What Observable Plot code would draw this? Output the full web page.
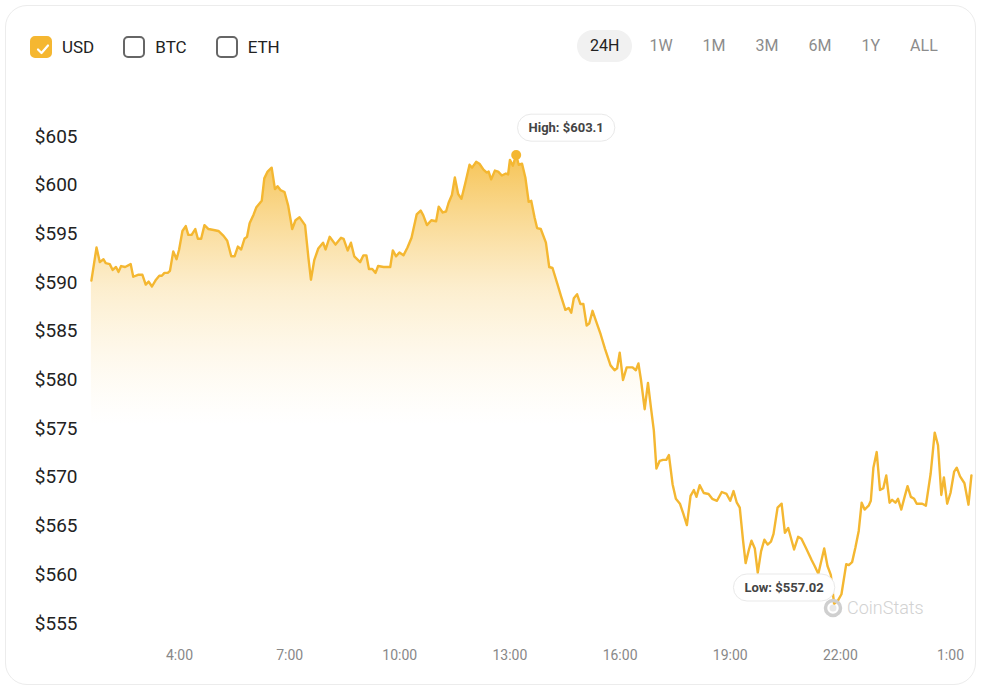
<!DOCTYPE html>
<html><head><meta charset="utf-8">
<script src="https://cdn.jsdelivr.net/npm/d3@7"></script>
<script src="https://cdn.jsdelivr.net/npm/@observablehq/plot@0.6"></script>
<style>
html,body{margin:0;padding:0;background:#fff;font-family:Roboto,"Noto Sans",sans-serif;}
#card{position:absolute;left:5px;top:5px;width:971px;height:680px;border:1px solid #ececec;border-radius:22px;box-sizing:border-box;}
#legend{position:absolute;left:30px;top:36px;display:flex;align-items:center;gap:29px;}
.item{display:flex;align-items:center;gap:10px;font-size:17px;color:#222;}
.box{width:22px;height:22px;box-sizing:border-box;border:2px solid #666;border-radius:5px;position:relative;}
.box.on{background:#f5b731;border-color:#f5b731;}
.box.on svg{position:absolute;left:3px;top:3px;}
#ranges{position:absolute;left:577px;top:30px;display:flex;gap:4px;}
.rb{height:32px;line-height:32px;padding:0 13px;border-radius:16px;font-size:16px;color:#8c8c8c;}
.rb.on{background:#f1f1f1;color:#222;}
#chart{position:absolute;left:0;top:90px;}
#wm{position:absolute;left:823px;top:597px;display:flex;align-items:center;gap:4px;color:#d2d2d2;font-size:18px;font-weight:300;}
</style></head><body>
<div id="card"></div>
<div id="legend"></div>
<div id="ranges"></div>
<div id="chart"></div>
<div id="wm"><svg width="20" height="20" viewBox="0 0 20 20"><circle cx="10" cy="10" r="7.5" fill="none" stroke="#cfcfcf" stroke-width="3.5"/><circle cx="10" cy="10" r="3.5" fill="#e8e8e8"/></svg><span>CoinStats</span></div>
<script>
const currencies = ["USD", "BTC", "ETH"];
const ranges = ["24H", "1W", "1M", "3M", "6M", "1Y", "ALL"];
const xTickHours = [4, 7, 10, 13, 16, 19, 22, 25];
const xTickLabels = ["4:00", "7:00", "10:00", "13:00", "16:00", "19:00", "22:00", "1:00"];
const yTicks = [555, 560, 565, 570, 575, 580, 585, 590, 595, 600, 605];
const hours = [1.60,1.74,1.83,1.93,1.99,2.10,2.18,2.27,2.34,2.41,2.52,2.67,2.74,2.87,2.99,3.08,3.16,3.25,3.36,3.45,3.52,3.59,3.68,3.74,3.83,3.92,3.99,4.08,4.17,4.24,4.33,4.43,4.50,4.59,4.68,4.79,4.93,5.06,5.20,5.30,5.41,5.50,5.59,5.68,5.77,5.84,5.91,6.02,6.09,6.24,6.31,6.40,6.51,6.60,6.67,6.75,6.86,6.96,7.07,7.16,7.27,7.42,7.51,7.58,7.67,7.78,7.91,7.98,8.09,8.25,8.40,8.47,8.58,8.67,8.76,8.92,9.01,9.09,9.16,9.25,9.34,9.41,9.56,9.74,9.81,9.90,9.99,10.10,10.21,10.32,10.46,10.57,10.64,10.74,10.86,10.99,11.06,11.17,11.26,11.33,11.42,11.50,11.59,11.68,11.79,11.90,11.97,12.08,12.17,12.28,12.37,12.42,12.49,12.59,12.68,12.78,12.89,12.95,13.00,13.08,13.17,13.24,13.33,13.42,13.51,13.58,13.67,13.74,13.84,13.98,14.07,14.16,14.29,14.40,14.51,14.60,14.67,14.74,14.83,14.92,15.00,15.09,15.16,15.25,15.36,15.47,15.59,15.74,15.85,15.92,15.99,16.08,16.18,16.34,16.43,16.50,16.57,16.67,16.76,16.84,16.92,16.99,17.08,17.17,17.26,17.33,17.43,17.52,17.63,17.72,17.82,17.92,18.01,18.08,18.17,18.28,18.41,18.51,18.64,18.77,18.90,19.00,19.09,19.18,19.26,19.35,19.42,19.51,19.58,19.67,19.75,19.84,19.93,20.02,20.11,20.18,20.29,20.40,20.49,20.58,20.74,20.85,20.94,21.07,21.22,21.30,21.40,21.56,21.65,21.74,21.83,21.94,22.03,22.16,22.23,22.32,22.41,22.50,22.58,22.66,22.77,22.83,22.90,22.99,23.08,23.17,23.25,23.34,23.41,23.50,23.57,23.66,23.75,23.83,23.92,24.01,24.08,24.23,24.33,24.46,24.57,24.66,24.75,24.82,24.91,25.00,25.10,25.17,25.26,25.38,25.49,25.57];
const prices = [590.2,593.6,592.1,592.4,592.0,591.9,591.3,591.6,591.1,591.7,591.6,591.9,590.6,590.8,590.8,589.8,590.1,589.6,590.3,590.7,590.7,591.0,591.0,591.2,593.2,592.4,593.4,595.3,595.8,594.9,594.9,595.5,594.5,594.5,595.9,595.5,595.4,595.3,594.8,594.3,592.7,592.7,593.7,593.4,594.5,594.7,596.1,597.0,597.7,598.4,600.7,601.4,601.8,599.6,599.9,599.5,599.3,597.9,595.5,596.4,596.7,595.9,592.6,590.3,592.3,593.5,594.1,593.4,594.7,593.9,594.6,594.5,593.3,594.1,592.7,592.1,592.8,592.8,591.4,591.4,591.0,591.7,591.6,591.6,593.3,592.7,593.1,592.8,593.6,594.6,597.0,597.4,596.9,595.9,596.4,596.3,597.8,597.2,597.3,598.2,599.0,600.8,599.1,598.6,600.3,602.1,601.8,602.4,602.2,601.6,601.3,601.4,600.6,601.5,601.4,601.0,601.2,601.1,602.6,602.0,603.1,602.1,602.2,600.8,598.3,598.4,596.7,595.6,595.5,594.1,591.6,591.5,589.9,588.5,587.2,587.4,586.9,588.4,588.8,587.8,587.8,585.6,585.8,587.1,585.9,584.7,583.2,581.5,581.0,581.2,582.8,580.0,581.3,581.3,581.0,581.7,580.0,577.0,579.7,577.2,574.8,570.9,571.7,571.8,571.8,572.3,569.3,567.8,567.3,566.3,565.1,568.1,568.7,568.0,569.2,568.4,568.3,567.8,567.6,568.5,568.3,567.6,568.6,567.4,566.9,563.5,561.2,562.6,563.5,562.7,560.2,562.4,563.6,563.1,563.4,564.2,566.9,567.3,564.3,564.8,562.6,563.9,563.7,562.7,561.5,560.9,560.1,562.7,560.9,560.0,557.02,557.4,558.0,561.1,561.0,561.3,562.8,564.5,567.4,566.7,567.1,567.6,571.0,572.6,568.7,568.9,570.2,567.4,567.7,567.4,567.8,566.7,568.0,569.1,568.0,567.8,567.3,567.3,567.1,570.4,574.6,573.3,568.2,570.0,567.3,568.4,570.6,571.0,570.1,569.4,567.2,570.2];

// header
const legend = document.getElementById("legend");
currencies.forEach((c, i) => {
  const it = document.createElement("div"); it.className = "item";
  const b = document.createElement("div"); b.className = "box" + (i === 0 ? " on" : "");
  if (i === 0) b.innerHTML = '<svg width="16" height="16" viewBox="0 0 16 16"><path d="M3 8.5 L6.5 12 L13 4.5" fill="none" stroke="#fff" stroke-width="2.2" stroke-linecap="round" stroke-linejoin="round"/></svg>';
  const t = document.createElement("span"); t.textContent = c;
  it.append(b, t); legend.append(it);
});
const rg = document.getElementById("ranges");
ranges.forEach((r, i) => {
  const d = document.createElement("div"); d.className = "rb" + (i === 0 ? " on" : ""); d.textContent = r; rg.append(d);
});

const data = hours.map((h, i) => ({h, p: prices[i]}));
const hi = data.reduce((a, b) => b.p > a.p ? b : a);
const lo = data.reduce((a, b) => b.p < a.p ? b : a);
const lineColor = "#f4b731";

const chart = Plot.plot({
  width: 982, height: 600,
  marginLeft: 80, marginRight: 0, marginTop: 0, marginBottom: 43,
  style: {fontFamily: "Roboto, sans-serif", background: "transparent", overflow: "visible"},
  x: {domain: [4, 25], range: [179, 950]},
  y: {domain: [555, 605], range: [533, 46]},
  marks: [
    Plot.areaY(data, {x: "h", y1: 555, y2: "p", fill: "url(#usdGrad)"}),
    Plot.lineY(data, {x: "h", y: "p", stroke: lineColor, strokeWidth: 2.4, strokeLinejoin: "round"}),
    Plot.dot([hi], {x: "h", y: "p", r: 5, fill: lineColor}),
    Plot.axisY({ticks: yTicks, tickSize: 0, tickPadding: 3, tickFormat: d => "$" + d, fontSize: 19, fill: "#222", label: null}),
    Plot.axisX({ticks: xTickHours, tickSize: 0, tickPadding: 3, tickFormat: d => xTickLabels[xTickHours.indexOf(d)], fontSize: 14, fill: "#888", label: null}),
    Plot.text([hi], {x: "h", y: "p", text: d => "High: $" + d.p, dx: 50, dy: -27, fontSize: 13, fontWeight: "bold", fill: "#444"}),
    Plot.text([lo], {x: "h", y: "p", text: d => "Low: $" + d.p.toFixed(2), dx: -50, dy: -16, fontSize: 13, fontWeight: "bold", fill: "#444"})
  ]
});
document.getElementById("chart").append(chart);

const NS = "http://www.w3.org/2000/svg";
const defs = document.createElementNS(NS, "defs");
defs.innerHTML = '<linearGradient id="usdGrad" gradientUnits="userSpaceOnUse" x1="0" y1="60" x2="0" y2="335"><stop offset="0" stop-color="#f4b731" stop-opacity="0.85"/><stop offset="0.5" stop-color="#f7c65a" stop-opacity="0.3"/><stop offset="1" stop-color="#fbe3a8" stop-opacity="0"/></linearGradient>';
chart.insertBefore(defs, chart.firstChild);

chart.querySelectorAll("text").forEach(t => {
  const s = t.textContent;
  if (s.startsWith("High") || s.startsWith("Low")) {
    const bb = t.getBBox();
    const r = document.createElementNS(NS, "rect");
    const padX = 11, padY = 6;
    r.setAttribute("x", bb.x - padX); r.setAttribute("y", bb.y - padY);
    r.setAttribute("width", bb.width + 2 * padX); r.setAttribute("height", bb.height + 2 * padY);
    r.setAttribute("rx", (bb.height + 2 * padY) / 2);
    r.setAttribute("fill", "#fff"); r.setAttribute("stroke", "#e9e9e9");
    const tr = t.getAttribute("transform");
    if (tr) r.setAttribute("transform", tr);
    t.parentNode.insertBefore(r, t);
  }
});
</script>
</body></html>
